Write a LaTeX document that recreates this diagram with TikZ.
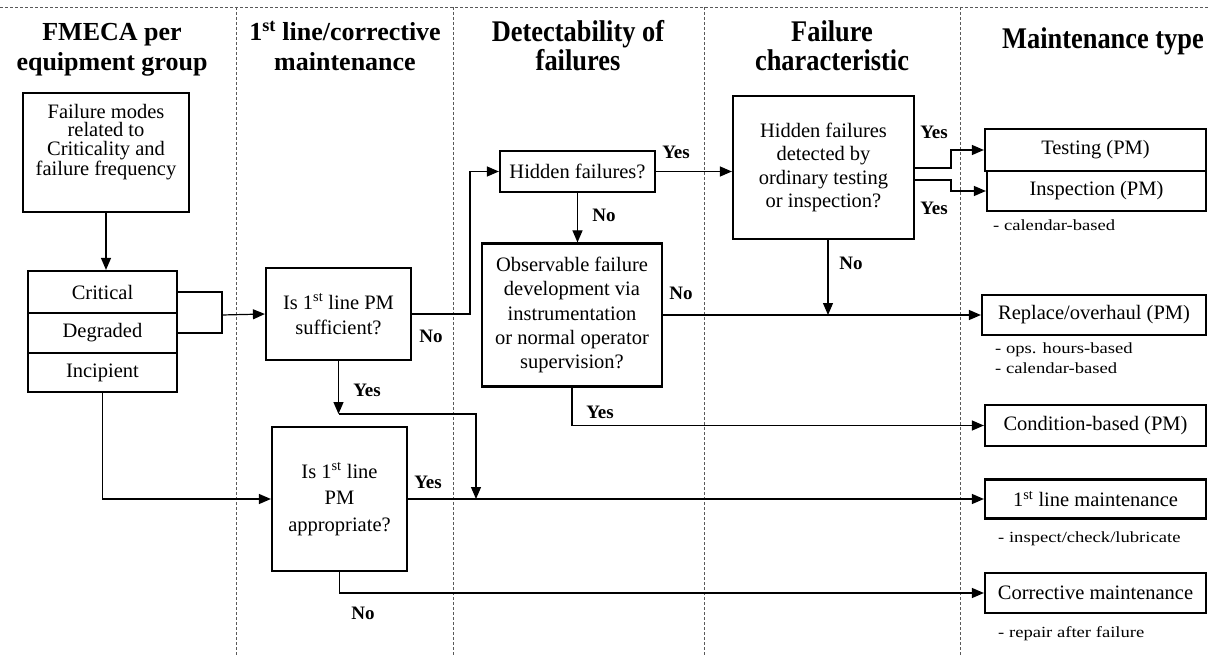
\documentclass[tikz,border=0pt]{standalone}
\usepackage{fontspec}
\setmainfont{Liberation Serif}
\newfontfamily\condserif[FakeStretch=0.88]{Liberation Serif}
\newfontfamily\notefont[FakeStretch=1.2]{Liberation Serif}
\usetikzlibrary{arrows.meta}

\begin{document}
\begin{tikzpicture}[x=1pt,y=-1pt,
  box/.style={draw, line width=2.2pt, inner sep=0pt, align=center,
    font=\fontsize{20.5}{24}\selectfont},
  flow/.style={line width=1.2pt, -{Triangle[length=12pt,width=10pt]}},
  plain/.style={line width=1.2pt},
  lane/.style={black!65, line width=0.9pt, dash pattern=on 3pt off 2pt},
  ans/.style={font=\fontsize{19}{19}\selectfont\bfseries, inner sep=0pt},
  note/.style={font=\notefont\fontsize{15.5}{20}\selectfont, anchor=base west, inner sep=0pt},
  head/.style={font=\fontsize{26}{30}\selectfont\bfseries, align=center, inner sep=0pt},
  headc/.style={font=\condserif\fontsize{30}{29}\selectfont\bfseries, align=center, inner sep=0pt},
]
\useasboundingbox (0,0) rectangle (1210,655);

% swim-lane separators
\draw[lane] (0,7) -- (1210,7);
\foreach \lx in {236,453,704,960} \draw[lane] (\lx,7) -- (\lx,655);

% column headings
\node[head]  (h1) at (112,49.3) {FMECA per\\equipment group};
\node[head]  (h2) at (345,46) {1\textsuperscript{st} line/corrective\\maintenance};
\node[headc] (h3) at (578,46) {Detectability of\\failures};
\node[headc] (h4) at (832,46) {Failure\\characteristic};
\node[headc, anchor=base] (h5) at (1103,49) {Maintenance type};

% FMECA column
\node[box, minimum width=166pt, minimum height=119pt] (fm) at (106,152.5) {};
\node[inner sep=0pt, align=center, font=\fontsize{20.5}{18.7}\selectfont] (fmtext) at (106,142)
  {Failure modes\\related to\\Criticality and\\failure frequency};
\node[box, minimum width=149pt, minimum height=42pt] (crit) at (102.5,292) {Critical};
\node[box, minimum width=149pt, minimum height=40pt] (deg)  at (102.5,333) {Degraded};
\node[box, minimum width=149pt, minimum height=39pt] (inc)  at (102.5,372.5) {Incipient};

% 1st line / corrective column
\node[box, minimum width=145pt, minimum height=92pt, font=\fontsize{20.5}{25}\selectfont] (suff) at (338.5,314)
  {Is 1\textsuperscript{st} line PM\\sufficient?};
\node[box, minimum width=135pt, minimum height=144pt, font=\fontsize{20.5}{26.5}\selectfont] (appr) at (339.5,499)
  {Is 1\textsuperscript{st} line\\PM\\appropriate?};

% detectability column
\node[box, minimum width=155pt, minimum height=41pt] (hid) at (577.5,171.5) {Hidden failures?};
\node[box, minimum width=180pt, minimum height=143pt, font=\fontsize{20.5}{24.3}\selectfont] (obs) at (572,315)
  {Observable failure\\development via\\instrumentation\\or normal operator\\supervision?};

% failure characteristic column
\node[box, minimum width=181pt, minimum height=143pt, font=\fontsize{20.5}{23.3}\selectfont] (hdet) at (823.5,167.5)
  {Hidden failures\\detected by\\ordinary testing\\or inspection?};

% maintenance type column
\node[box, minimum width=221pt, minimum height=42pt] (test)  at (1095.5,150) {Testing (PM)};
\node[box, minimum width=219pt, minimum height=40pt] (insp)  at (1096.5,191) {Inspection (PM)};
\node[box, minimum width=224pt, minimum height=40pt] (repl)  at (1094,315) {Replace/overhaul (PM)};
\node[box, minimum width=221pt, minimum height=41pt] (cond)  at (1095.5,425.5) {Condition-based (PM)};
\node[box, minimum width=221pt, minimum height=39pt] (first) at (1095.5,499) {1\textsuperscript{st} line maintenance};
\node[box, minimum width=221pt, minimum height=40pt] (corr)  at (1095.5,593) {Corrective maintenance};

\node[note] (n1) at (993,231) {- calendar-based};
\node[note] (n2) at (995,353) {- ops. hours-based};
\node[note] (n3) at (995,373) {- calendar-based};
\node[note] (n4) at (998,542) {- inspect/check/lubricate};
\node[note] (n5) at (998,637) {- repair after failure};

% junction points of the connectors
\coordinate (mrg)   at (222,315);
\coordinate (nturn) at (470,314);
\coordinate (yj)    at (338.5,414);
\coordinate (yk)    at (476,414);
\coordinate (hdrop) at (828,315);
\coordinate (hdA)   at (914,168);
\coordinate (hdB)   at (914,180);
\coordinate (spA)   at (951,168);
\coordinate (spB)   at (951,180);

% connectors
\draw[flow] (fm.south) -- (fm.south |- crit.north);
\draw[plain] (crit.east) -| (mrg) |- (deg.east);
\draw[flow] (mrg) -- (suff.west);
\draw[flow] (inc.south) |- (appr.west);
\draw[flow] (suff.east) -- (nturn) |- (hid.west);
\draw[flow] (suff.south) -- (yj);
\draw[flow] (yj) -- (yk) -- (yk |- first.west);
\draw[flow] (appr.east) -- (first.west);
\draw[flow] (appr.south) |- (corr.west);
\draw[flow] (hid.east) -- (hid.east -| hdet.west);
\draw[flow] (hid.south) -- (hid.south |- obs.north);
\draw[flow] (obs.east) -- (repl.west);
\draw[flow] (hdet.south -| hdrop) -- (hdrop);
\draw[flow] (obs.south) |- (cond.west);
\draw[flow] (hdA) -- (spA) |- (test.west);
\draw[flow] (hdB) -- (spB) |- (insp.west);

% answer labels
\node[ans] (l1)  at (431,336) {No};
\node[ans] (l2)  at (367,390) {Yes};
\node[ans] (l3)  at (428,482) {Yes};
\node[ans] (l4)  at (363,613) {No};
\node[ans] (l5)  at (676,152) {Yes};
\node[ans] (l6)  at (604,215) {No};
\node[ans] (l7)  at (681,293) {No};
\node[ans] (l8)  at (851,263) {No};
\node[ans] (l9)  at (600,412) {Yes};
\node[ans] (l10) at (934,132) {Yes};
\node[ans] (l11) at (934,208) {Yes};
\end{tikzpicture}
\end{document}
